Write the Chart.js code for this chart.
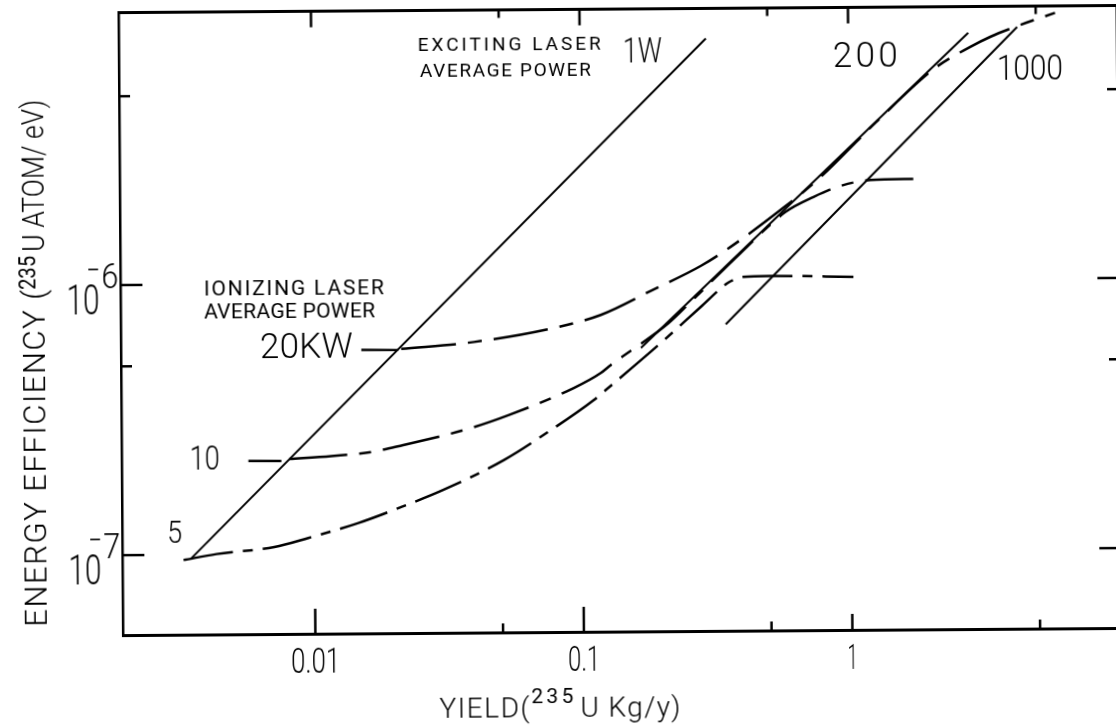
<!DOCTYPE html>
<html>
<head>
<meta charset="utf-8">
<script src="https://cdn.jsdelivr.net/npm/chart.js@4.4.1/dist/chart.umd.min.js"></script>
<style>
  html, body { margin: 0; padding: 0; background: #fff; overflow: hidden; width: 1116px; height: 728px; }
  #wrap { position: relative; width: 1116px; height: 728px; overflow: hidden; background: #fff; }
  /* the printed figure sits very slightly askew on the page */
  #c { position: absolute; left: 0; top: 0; width: 1140px; height: 728px;
       transform-origin: 558px 364px; transform: rotate(-0.41deg); }
</style>
</head>
<body>
<div id="wrap"><canvas id="c" width="1140" height="728"></canvas></div>
<script>
// Energy efficiency (235U atoms per eV) against yield (235U kg per year), log-log.

// Axis limits
const X_MIN = 0.00192, X_MAX = 10;
const Y_MIN = 5.06e-8, Y_MAX = 1.02e-5;

// Exciting laser average power: straight lines [yield, efficiency]
const exc1W    = [[0.00347, 9.7e-8], [0.295, 7.9e-6]];
const exc200W  = [[0.166, 5.67e-7], [2.80, 8.15e-6]];
const exc1000W = [[0.344, 6.9e-7], [4.26, 8.55e-6]];

// Ionizing laser average power: dashed curves [yield, efficiency]
const ion5kW = [
  [0.003244, 9.56e-8], [0.004304, 1.004e-7], [0.007074, 1.062e-7], [0.009471, 1.145e-7],
  [0.01455, 1.297e-7], [0.02104, 1.482e-7], [0.03017, 1.709e-7], [0.05094, 2.199e-7],
  [0.07437, 2.783e-7], [0.1105, 3.648e-7], [0.1225, 3.97e-7], [0.1967, 5.905e-7],
  [0.2778, 8.01e-7], [0.3504, 9.81e-7], [0.3753, 1.015e-6], [0.3986, 1.032e-6],
  [0.5064, 1.039e-6], [1.031, 1.025e-6]
];
const ion10kW = [
  [0.008089, 2.247e-7], [0.01159, 2.299e-7], [0.01633, 2.373e-7], [0.02148, 2.514e-7],
  [0.03847, 2.894e-7], [0.05331, 3.226e-7], [0.09316, 4.046e-7], [0.1175, 4.59e-7],
  [0.128, 4.91e-7], [0.2109, 7.0e-7], [0.2594, 8.51e-7], [0.3925, 1.266e-6],
  [0.5781, 1.791e-6], [0.7355, 2.032e-6], [0.9273, 2.228e-6], [1.199, 2.34e-6],
  [1.733, 2.355e-6]
];
const ion20kW = [
  [0.02124, 5.703e-7], [0.03969, 6.026e-7], [0.07875, 6.76e-7], [0.1179, 7.529e-7],
  [0.1843, 9.29e-7], [0.2784, 1.136e-6], [0.3602, 1.334e-6], [0.5541, 1.822e-6],
  [0.7619, 2.349e-6], [1.256, 3.805e-6], [2.107, 6.06e-6], [2.847, 7.23e-6],
  [3.38, 7.866e-6], [4.188, 8.555e-6], [5.903, 9.617e-6]
];
// short leader strokes from the power labels to their curves
const lead10kW = [[0.00569, 2.215e-7], [0.00755, 2.211e-7]];
const lead20kW = [[0.01509, 5.67e-7], [0.0207, 5.654e-7]];

// Tick values and labels
const xTicksMajor = [0.01, 0.1, 1];
const xTickLabels = ['0.01', '0.1', '1'];
const xTicksMinor = [0.05, 0.5, 5];
const yTicksMajor = [1e-7, 1e-6];
const yTickExponents = ['7', '6'];
const yTicksMinor = [5e-7, 5e-6];

const FONT = 'Roboto, "Liberation Sans", Arimo, sans-serif';

const toXY = arr => arr.map(p => ({ x: p[0], y: p[1] }));

function solidSet(label, arr, width) {
  return { label, data: toXY(arr), borderColor: '#000', borderWidth: width || 2,
           pointRadius: 0, tension: 0, fill: false, xAxisID: 'x', yAxisID: 'y' };
}
function dashedSet(label, arr, dash) {
  return { label, data: toXY(arr), borderColor: '#000', borderWidth: 2.5,
           pointRadius: 0, cubicInterpolationMode: 'monotone', borderDash: dash,
           fill: false, xAxisID: 'x', yAxisID: 'y' };
}

// text drawn to a given width: letter spacing when wider, squeeze when narrower
function drawFit(ctx, text, left, base, width, size) {
  const weight = size < 25 ? '400' : '300';
  ctx.font = weight + ' ' + size + 'px ' + FONT;
  if ('letterSpacing' in ctx) ctx.letterSpacing = '0px';
  const w0 = ctx.measureText(text).width;
  ctx.save();
  ctx.translate(left, base);
  if (width > w0 && text.length > 1 && 'letterSpacing' in ctx) {
    ctx.letterSpacing = ((width - w0) / (text.length - 1)) + 'px';
  } else if (width) {
    ctx.scale(width / w0, 1);
  }
  ctx.textAlign = 'left';
  ctx.textBaseline = 'alphabetic';
  ctx.fillText(text, 0, 0);
  ctx.restore();
  if ('letterSpacing' in ctx) ctx.letterSpacing = '0px';
}

const notes = [
  { t: 'EXCITING LASER', x: 420, y: 49.5, w: 183, s: 19 },
  { t: 'AVERAGE POWER',  x: 422, y: 75.5, w: 171, s: 19 },
  { t: '1W',    x: 625, y: 62.5, w: 39, s: 35 },
  { t: '200',   x: 835, y: 69,   w: 65, s: 35 },
  { t: '1000',  x: 999, y: 83,   w: 66, s: 35 },
  { t: 'IONIZING LASER', x: 204.5, y: 292.5, w: 180, s: 21 },
  { t: 'AVERAGE POWER',  x: 204.5, y: 315.5, w: 171, s: 21 },
  { t: '20KW',  x: 260, y: 356, w: 93, s: 35 },
  { t: '10',    x: 189, y: 467, w: 30, s: 33 },
  { t: '5',     x: 166, y: 540, w: 15, s: 32 }
];

const deco = {
  id: 'deco',
  afterDraw(chart) {
    const { ctx, chartArea: a, scales } = chart;
    const xs = scales.x, ys = scales.y;
    ctx.save();
    ctx.strokeStyle = '#000';
    ctx.fillStyle = '#000';
    ctx.lineCap = 'butt';
    ctx.lineWidth = 2.5;

    const line = (x1, y1, x2, y2) => { ctx.beginPath(); ctx.moveTo(x1, y1); ctx.lineTo(x2, y2); ctx.stroke(); };

    // inward tick marks on all four sides
    xTicksMajor.forEach(v => {
      const px = xs.getPixelForValue(v);
      line(px, a.bottom, px, a.bottom - (v === 1 ? 16 : 25));
      line(px, a.top, px, a.top + 16);
    });
    xTicksMinor.forEach(v => {
      const px = xs.getPixelForValue(v);
      line(px, a.bottom, px, a.bottom - 9);
      line(px, a.top, px, a.top + 8);
    });
    yTicksMajor.forEach(v => {
      const py = ys.getPixelForValue(v);
      line(a.left, py, a.left + 22, py);
      line(a.right, py, a.right - 21, py);
    });
    yTicksMinor.forEach(v => {
      const py = ys.getPixelForValue(v);
      line(a.left, py, a.left + 11, py);
      line(a.right, py, a.right - 10, py);
    });

    // x tick labels
    const xw = [49, 32, 10];
    xTicksMajor.forEach((v, i) => {
      const px = xs.getPixelForValue(v);
      drawFit(ctx, xTickLabels[i], px - xw[i] / 2, a.bottom + 39, xw[i], 35);
    });

    // y tick labels: 10 with a raised negative exponent
    yTicksMajor.forEach((v, i) => {
      const py = ys.getPixelForValue(v);
      drawFit(ctx, '10', 67, py + 29, 33, 42);
      drawFit(ctx, '-', 88, py - 6, 12, 31);
      drawFit(ctx, yTickExponents[i], 102, py + 3, 17, 35);
    });

    // axis titles
    drawFit(ctx, 'YIELD(', 437, 717, 90, 28);
    drawFit(ctx, '235', 529, 703, 42, 21);
    drawFit(ctx, 'U Kg/y)', 578, 717, 100, 28);

    const yTitle = (text, startY, len, baseX, size) => {
      ctx.save();
      ctx.translate(baseX, startY);
      ctx.rotate(-Math.PI / 2);
      drawFit(ctx, text, 0, 0, len, size);
      ctx.restore();
    };
    yTitle('ENERGY EFFICIENCY (', 623, 337, 44.5, 31);
    yTitle('235', 286, 34, 36, 24);
    yTitle('U ATOM/ eV)', 248, 152, 44.5, 31);

    // curve annotations
    notes.forEach(n => drawFit(ctx, n.t, n.x, n.y, n.w, n.s));

    ctx.restore();
  }
};

const hiddenAxis = (position, width) => ({
  type: 'logarithmic', position, bounds: 'data',
  grid: { display: false, drawTicks: false, tickLength: 0 },
  ticks: { display: false },
  border: { display: true, color: '#000', width }
});

new Chart(document.getElementById('c'), {
  type: 'line',
  data: {
    datasets: [
      solidSet('1 W', exc1W),
      solidSet('200 W', exc200W),
      solidSet('1000 W', exc1000W),
      dashedSet('5 kW', ion5kW, [50, 10, 10, 10]),
      dashedSet('10 kW', ion10kW, [58, 12, 12, 12]),
      dashedSet('20 kW', ion20kW, [55, 12, 14, 12]),
      solidSet('10 kW label', lead10kW, 2.4),
      solidSet('20 kW label', lead20kW, 2.4)
    ]
  },
  options: {
    responsive: false,
    animation: false,
    events: [],
    layout: { padding: { left: 121, right: 21, top: 9.5, bottom: 96 } },
    plugins: { legend: { display: false }, tooltip: { enabled: false } },
    scales: {
      x:      Object.assign(hiddenAxis('bottom', 3),  { min: X_MIN, max: X_MAX }),
      xTop:   Object.assign(hiddenAxis('top', 3),     { min: X_MIN, max: X_MAX }),
      y:      Object.assign(hiddenAxis('left', 2.5),  { min: Y_MIN, max: Y_MAX }),
      yRight: Object.assign(hiddenAxis('right', 2),   { min: Y_MIN, max: Y_MAX })
    }
  },
  plugins: [deco]
});
</script>
</body>
</html>
